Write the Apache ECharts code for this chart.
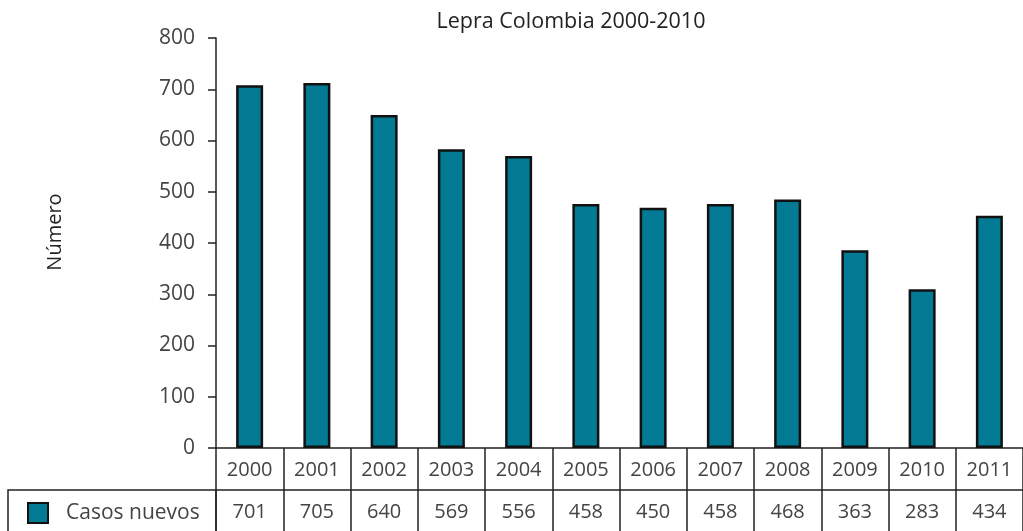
<!DOCTYPE html>
<html>
<head>
<meta charset="utf-8">
<script src="https://cdn.jsdelivr.net/npm/echarts@6/dist/echarts.min.js"></script>
<style>
html,body{margin:0;padding:0;background:#fff;}
#chart{width:1023px;height:531px;}
</style>
</head>
<body>
<div id="chart"></div>
<script>
// Data
const years = ['2000','2001','2002','2003','2004','2005','2006','2007','2008','2009','2010','2011'];
// bar heights as drawn in the picture
const barValues = [708, 712, 650, 583, 570, 476, 469, 476, 485, 386, 310, 453];
// values printed in the data table
const tableValues = ['701','705','640','569','556','458','450','458','468','363','283','434'];
const yTicks = { min: 0, max: 800, interval: 100 };
const seriesName = 'Casos nuevos';
const titleText = 'Lepra Colombia 2000-2010';
const yName = 'Número';

const FONT = 'Open Sans';
const chart = echarts.init(document.getElementById('chart'), null, {renderer: 'canvas'});
chart.setOption({
  animation: false,
  backgroundColor: '#fff',
  title: {
    text: titleText, left: 566, top: 6, textAlign: 'center',
    textStyle: {fontFamily: FONT, fontSize: 21.5, fontWeight: 'normal', color: '#222'}
  },
  legend: {
    data: [seriesName], left: 22, top: 497, icon: 'rect',
    itemWidth: 20, itemHeight: 20,
    textStyle: {fontFamily: FONT, fontSize: 21, color: '#444', padding: [0,0,0,13]}
  },
  grid: {left: 216, right: -7, top: 38, bottom: 83, containLabel: false},
  xAxis: [
    {
      type: 'category', data: years, position: 'bottom',
      axisLine: {show: true, lineStyle: {color: '#222', width: 1.5}},
      axisTick: {show: true, length: 42, interval: 0, lineStyle: {color: '#222', width: 1.5}},
      axisLabel: {interval: 0, margin: 12, fontFamily: FONT, fontSize: 20, color: '#444', lineHeight: 20},
      splitLine: {show: false}
    },
    {
      type: 'category', data: tableValues, position: 'bottom', offset: 42,
      axisLine: {show: true, lineStyle: {color: '#222', width: 1.5}},
      axisTick: {show: true, length: 42, interval: 0, lineStyle: {color: '#222', width: 1.5}},
      axisLabel: {interval: 0, margin: 12, fontFamily: FONT, fontSize: 20, color: '#444', lineHeight: 20},
      splitLine: {show: false}
    }
  ],
  yAxis: {
    type: 'value', min: yTicks.min, max: yTicks.max, interval: yTicks.interval,
    name: yName, nameLocation: 'middle', nameGap: 151, nameRotate: 90,
    nameTextStyle: {fontFamily: FONT, fontSize: 20, color: '#222', padding: [0,0,0,22]},
    axisLine: {show: true, lineStyle: {color: '#222', width: 1.5}},
    axisTick: {show: true, length: 8, lineStyle: {color: '#222', width: 1.5}},
    axisLabel: {margin: 21, fontFamily: FONT, fontSize: 21, color: '#444'},
    splitLine: {show: false}
  },
  graphic: [
    {type: 'rect', shape: {x: 8, y: 490, width: 208, height: 60},
     style: {fill: 'none', stroke: '#222', lineWidth: 1.5}, silent: true}
  ],
  series: [{
    name: seriesName, type: 'bar', xAxisIndex: 0, data: barValues,
    barWidth: 27,
    itemStyle: {color: '#037A94', borderColor: '#111', borderWidth: 2.5}
  }]
});
</script>
</body>
</html>
